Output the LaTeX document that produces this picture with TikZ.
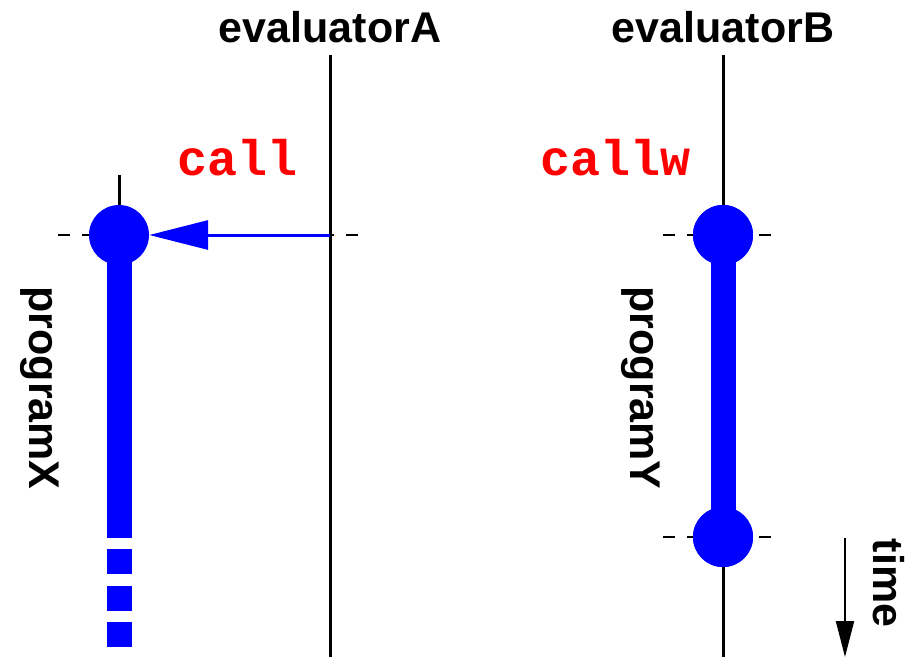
\documentclass[tikz,border=0pt]{standalone}
\usepackage{fontspec}
\setmainfont{Liberation Sans}
\newfontfamily\codefont{Liberation Mono}
\usetikzlibrary{arrows.meta}
\definecolor{progblue}{RGB}{0,0,255}
\definecolor{callred}{RGB}{255,0,0}
\begin{document}
\begin{tikzpicture}[x=1pt,y=-1pt,
  lifeline/.style={draw=black,line width=3pt},
  tick/.style={draw=black,line width=1.5pt,dash pattern=on 12pt off 12pt},
  dot/.style={circle,fill=progblue,minimum size=60pt,inner sep=0pt},
  run/.style={draw=progblue,line width=25pt},
  title/.style={font=\fontsize{43}{50}\selectfont\bfseries,inner sep=0pt,anchor=base},
  vlabel/.style={font=\fontsize{43}{50}\selectfont\bfseries,inner sep=0pt,rotate=-90},
  callname/.style={font=\codefont\fontsize{50}{56}\selectfont\bfseries,text=callred,inner sep=0pt,anchor=base},
  callarrow/.style={draw=progblue,line width=3pt,-{Triangle[length=59pt,width=29pt]}}]
\useasboundingbox (0,0) rectangle (911,657);

% evaluator lifelines
\node[title] (evA) at (330,42) {evaluatorA};
\node[title] (evB) at (723,42) {evaluatorB};
\coordinate (evAtop) at (330,55);
\coordinate (evAbot) at (330,657);
\coordinate (evBtop) at (723,55);
\coordinate (evBbot) at (723,657);
\draw[lifeline] (evAtop) -- (evAbot);
\draw[lifeline] (evBtop) -- (evBbot);

% call labels
\node[callname] (callA) at (238,175) {call};
\node[callname] (callB) at (616,175) {callw};

% programX started by call
\coordinate (xtop) at (119,175);
\coordinate (xend) at (119,538);
\coordinate (xdash1) at (119,549);
\coordinate (xdash2) at (119,647);
\coordinate (hitA) at (330,235);
\coordinate (tickAl) at (58,235);
\coordinate (tickAr) at (362,235);
\draw[tick] (tickAl) -- (tickAr);
\draw[lifeline] (xtop) -- (119,210);
\draw[run] (119,235) -- (xend);
\draw[draw=progblue,line width=25pt,dash pattern=on 25pt off 11.5pt] (xdash1) -- (xdash2);
\node[dot] (cA) at (119,235) {};
\draw[callarrow] (hitA) -- (cA);
\node[vlabel] (progX) at (40,388) {programX};

% programY run by callw
\coordinate (tickB1l) at (663,235);
\coordinate (tickB1r) at (773,235);
\coordinate (tickB2l) at (663,537);
\coordinate (tickB2r) at (773,537);
\draw[tick] (tickB1l) -- (tickB1r);
\draw[tick] (tickB2l) -- (tickB2r);
\node[dot] (cB1) at (723,235) {};
\node[dot] (cB2) at (723,537) {};
\draw[run] (cB1.center) -- (cB2.center);
\node[dot] at (cB1) {};
\node[dot] at (cB2) {};
\node[vlabel] (progY) at (641,388) {programY};

% time axis
\coordinate (tstart) at (845,538);
\coordinate (tend) at (845,657);
\draw[line width=2pt,-{Triangle[length=36pt,width=18pt]}] (tstart) -- (tend);
\node[vlabel] (time) at (889,583) {time};
\end{tikzpicture}
\end{document}
